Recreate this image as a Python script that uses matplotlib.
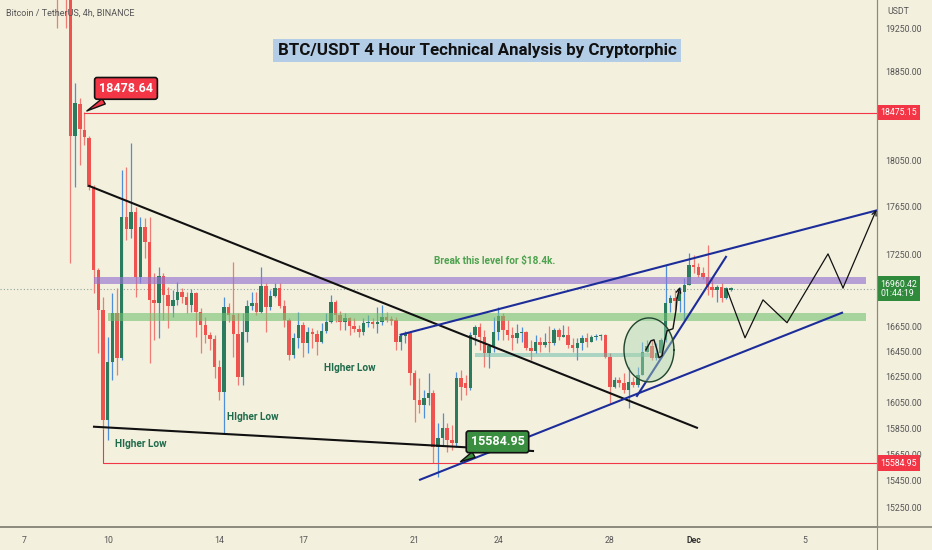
import numpy as np
import pandas as pd
import matplotlib
matplotlib.use('Agg')
import matplotlib.pyplot as plt
import matplotlib.transforms as mtransforms
from matplotlib.lines import Line2D
from matplotlib.ticker import NullLocator, NullFormatter

plt.rcParams['font.family'] = ['Roboto', 'DejaVu Sans']

# BTC/USDT 4h candles (Binance), first candle opens 2022-11-08 04:00
start = '2022-11-08 04:00'
opens = [19950, 19800, 19750, 19600, 18270, 18554, 18323, 18252, 17822, 17118, 16789, 15916,
         16370, 16765, 16402, 17564, 17462, 17607, 17060, 17479, 17352, 16870, 16846, 17069,
         16911, 16821, 16870, 16936, 16895, 16830, 16928, 16773, 16668, 16587, 16554, 16331,
         16133, 16813, 16749, 16595, 16252, 16611, 16821, 16846, 16773, 16986, 16813, 16903,
         16969, 16821, 16708, 16426, 16562, 16668, 16522, 16611, 16595, 16530, 16619, 16692,
         16854, 16749, 16692, 16724, 16659, 16635, 16611, 16684, 16692, 16676, 16692, 16732,
         16716, 16708, 16530, 16578, 16603, 16283, 16070, 16031, 16086, 16125, 15707, 15777,
         15854, 15762, 15738, 16244, 16200, 16160, 16587, 16651, 16570, 16441, 16498, 16610,
         16740, 16627, 16587, 16562, 16603, 16610, 16481, 16457, 16530, 16506, 16530, 16522,
         16627, 16570, 16587, 16506, 16481, 16522, 16562, 16530, 16570, 16578, 16585, 16410,
         16173, 16228, 16204, 16149, 16212, 16188, 16268, 16449, 16498, 16402, 16441, 16546,
         16846, 16886, 16862, 16936, 16994, 17160, 17143, 17090, 17055, 16977, 16952, 16977,
         16886, 16955]
highs = [20050, 19900, 19780, 19650, 18744, 18608, 18479, 18270, 17840, 17130, 16895, 16570,
         16928, 16969, 17971, 17997, 18207, 17650, 17564, 17556, 17564, 17094, 17143, 17094,
         16977, 16952, 17019, 16969, 16936, 16960, 16936, 16805, 16732, 16611, 16587, 16386,
         16895, 16846, 17185, 16765, 16765, 16870, 16936, 16936, 17143, 17011, 16952, 17011,
         17011, 16870, 16724, 16603, 16773, 16692, 16651, 16643, 16627, 16684, 16765, 16911,
         16870, 16781, 16765, 16732, 16724, 16668, 16724, 16749, 16724, 16813, 16830, 16773,
         16740, 16732, 16603, 16619, 16610, 16307, 16244, 16149, 16283, 16149, 15892, 15970,
         15892, 15877, 16291, 16307, 16268, 16611, 16668, 16684, 16627, 16514, 16732, 16813,
         16760, 16708, 16651, 16676, 16651, 16620, 16546, 16587, 16570, 16603, 16659, 16643,
         16643, 16668, 16659, 16562, 16562, 16587, 16603, 16587, 16590, 16595, 16595, 16441,
         16252, 16252, 16283, 16331, 16252, 16331, 16530, 16546, 16546, 16522, 16562, 17160,
         16911, 16952, 16977, 17052, 17259, 17243, 17176, 17143, 17326, 17060, 16994, 17011,
         16977, 16975]
lows = [19255, 19560, 19250, 17176, 17822, 18014, 18190, 17796, 16928, 16441, 15839, 15762,
        16228, 16268, 16386, 17369, 17386, 16895, 17011, 17218, 16362, 16546, 16562, 16708,
        16643, 16732, 16830, 16846, 16765, 16773, 16570, 16441, 16522, 16465, 16244, 16070,
        15815, 16692, 16410, 16188, 16188, 16530, 16789, 16749, 16765, 16611, 16789, 16895,
        16805, 16651, 16386, 16402, 16481, 16410, 16441, 16481, 16426, 16522, 16603, 16684,
        16692, 16627, 16627, 16587, 16611, 16570, 16587, 16651, 16643, 16603, 16668, 16692,
        16668, 16465, 16465, 16522, 16188, 15900, 15970, 15931, 16031, 15586, 15476, 15723,
        15669, 15684, 15707, 16070, 16110, 16149, 16506, 16465, 16331, 16323, 16449, 16546,
        16546, 16546, 16465, 16522, 16530, 16465, 16386, 16441, 16449, 16490, 16449, 16506,
        16546, 16565, 16481, 16449, 16386, 16465, 16490, 16530, 16546, 16546, 16402, 16047,
        16165, 16173, 16125, 16008, 16173, 16173, 16268, 16449, 16386, 16386, 16410, 16530,
        16773, 16789, 16773, 16708, 16994, 17094, 17060, 17045, 16911, 16895, 16854, 16854,
        16880, 16940]
closes = [19800, 19750, 19600, 18270, 18563, 18332, 18260, 17822, 17118, 16789, 15916, 16370,
          16765, 16402, 17564, 17462, 17607, 17060, 17479, 17352, 16870, 16846, 17069, 16911,
          16821, 16870, 16936, 16895, 16830, 16928, 16773, 16668, 16587, 16554, 16331, 16133,
          16813, 16749, 16595, 16252, 16611, 16821, 16846, 16773, 16986, 16813, 16903, 16969,
          16821, 16708, 16426, 16562, 16668, 16522, 16611, 16595, 16530, 16619, 16692, 16854,
          16749, 16692, 16724, 16659, 16635, 16611, 16684, 16692, 16676, 16692, 16732, 16708,
          16700, 16530, 16578, 16603, 16283, 16070, 16031, 16086, 16125, 15707, 15777, 15854,
          15762, 15738, 16244, 16173, 16160, 16587, 16651, 16570, 16441, 16498, 16610, 16740,
          16627, 16587, 16562, 16603, 16610, 16481, 16457, 16530, 16506, 16530, 16522, 16627,
          16570, 16587, 16506, 16481, 16522, 16562, 16530, 16570, 16578, 16585, 16410, 16173,
          16228, 16204, 16149, 16212, 16188, 16268, 16449, 16498, 16402, 16441, 16546, 16846,
          16886, 16862, 16936, 16994, 17160, 17143, 17077, 17055, 16977, 16952, 16977, 16886,
          16969, 16960.42]

# drawings (x = day counted from Oct 31, so 31 = Dec 1)
high_mark = (9.167, 18478.64)
low_mark = (22.556, 15584.95)
res_line = 18475.15
sup_line = 15584.95
last_price = 16960.42
purple_zone = (17002, 17060)
green_zone = (16699, 16765)
teal_zone = (16410, 16442)
black_lines = [((9.333, 17830), (31.12, 15854)),
               ((9.509, 15862), (25.244, 15676))]
blue_lines = [((20.5, 16587), (37.573, 17620)),
              ((21.194, 15459), (36.32, 16765)),
              ((28.97, 16101), (32.16, 17226))]
proj_days = [32.197, 32.842, 33.487, 34.348, 35.817, 36.355, 37.55]
proj_prices = [16952, 16562, 16870, 16684, 17251, 16969, 17624]
hook_days = [29.29, 29.47, 29.58, 29.69, 29.76, 29.87, 29.97, 30.05, 30.26, 30.37, 30.41, 30.51]
hook_prices = [16465, 16538, 16546, 16465, 16402, 16418, 16546, 16619, 16635, 16789, 16886, 16977]
higher_lows = [(11.19, 15730), (15.21, 15939), (18.68, 16323)]

price_ticks = [19250, 18850, 18050, 17650, 17250, 16650, 16450, 16250, 16050, 15850, 15650, 15450, 15250]
day_ticks = [7, 10, 14, 17, 21, 24, 28, 31, 35]
day_labels = ['7', '10', '14', '17', '21', '24', '28', 'Dec', '5']

BG = '#f4f0de'
UP, DOWN = '#2b7c5f', '#ef5350'
UP_WICK, DOWN_WICK = '#4f8fd8', '#f07a74'

times = pd.date_range(start, periods=len(opens), freq='4h')
days = ((times - pd.Timestamp('2022-10-31')) / pd.Timedelta('1D')).to_numpy()
o, h, l, c = map(np.array, (opens, highs, lows, closes))
up = c >= o

fig = plt.figure(figsize=(9.32, 5.5), dpi=100, facecolor=BG)
ax = fig.add_axes([0, 23 / 550, 877 / 932, 527 / 550], facecolor=BG)
ax.set_yscale('log')
ax.set_ylim(15108, 19515)
ax.set_xlim(6.14, 37.573)

# candles
ax.vlines(days, l, h, colors=np.where(up, UP_WICK, DOWN_WICK), lw=0.9, zorder=2)
body = np.maximum(np.abs(c - o), c * 0.0005)
ax.bar(days, body, bottom=np.minimum(o, c), width=0.125,
       color=np.where(up, UP, DOWN), zorder=3)

# zones
xe = 37.18
ax.fill_between([9.509, xe], *purple_zone, color='#9474d0', alpha=0.65, lw=0, zorder=4)
ax.fill_between([10.01, xe], *green_zone, color='#74c072', alpha=0.6, lw=0, zorder=4)
ax.fill_between([23.165, 29.44], *teal_zone, color='#63b9a8', alpha=0.5, lw=0, zorder=4)

# horizontal levels
ax.plot([high_mark[0], 40], [res_line, res_line], color='#f23645', lw=0.8, zorder=5)
ax.plot([9.833, 9.833, 40], [15839, sup_line, sup_line], color='#f23645', lw=0.8, zorder=5)
ax.axhline(last_price, color='#8fa39a', lw=0.8, ls=(0, (1, 2)), zorder=1)

for (x0, y0), (x1, y1) in black_lines:
    ax.plot([x0, x1], [y0, y1], color='#111111', lw=1.5, zorder=6)
for (x0, y0), (x1, y1) in blue_lines:
    ax.plot([x0, x1], [y0, y1], color='#1c2d9a', lw=1.5, zorder=6)

# circle around the breakout
t = np.linspace(0, 2 * np.pi, 200)
ex = 29.40 + 0.896 * np.cos(t)
ey = 16465 * np.exp(0.01553 * np.sin(t))
ax.fill(ex, ey, color='#a9d6b0', alpha=0.45, zorder=6)
ax.plot(ex, ey, color='#23452f', lw=1, zorder=7)

ax.plot(hook_days[:-1], hook_prices[:-1], color='#111111', lw=1, zorder=7)
ax.annotate('', xy=(hook_days[-1], hook_prices[-1]), xytext=(hook_days[-2], hook_prices[-2]),
            arrowprops=dict(arrowstyle='->', color='#111111', lw=1, shrinkA=0, shrinkB=0,
                            mutation_scale=8), zorder=7)

ax.plot(proj_days[:-1], proj_prices[:-1], color='#111111', lw=0.9, zorder=7)
ax.annotate('', xy=(proj_days[-1], proj_prices[-1]), xytext=(proj_days[-2], proj_prices[-2]),
            arrowprops=dict(arrowstyle='->', color='#111111', lw=0.9, shrinkA=0, shrinkB=0,
                            mutation_scale=8), zorder=7)

# callouts
ax.annotate(f'{high_mark[1]:.2f}', xy=high_mark, xytext=(10.656, 18695),
            ha='center', va='center', color='white', fontsize=9, fontweight='bold',
            bbox=dict(boxstyle='round,pad=0.35,rounding_size=0.2', fc='#f23645', ec='#111111', lw=1.2),
            arrowprops=dict(arrowstyle='wedge,tail_width=0.5', fc='#f23645', ec='#111111', lw=1),
            zorder=9)
ax.annotate(f'{low_mark[1]:.2f}', xy=low_mark, xytext=(23.97, 15746),
            ha='center', va='center', color='white', fontsize=9, fontweight='bold',
            bbox=dict(boxstyle='round,pad=0.35,rounding_size=0.2', fc='#3a8e3f', ec='#111111', lw=1.2),
            arrowprops=dict(arrowstyle='wedge,tail_width=0.5', fc='#3a8e3f', ec='#111111', lw=1),
            zorder=9)

for x, y in higher_lows:
    ax.text(x, y, 'HIgher Low', ha='center', va='center', fontsize=7.3,
            fontweight='bold', color='#1f6b4c', zorder=8)
ax.text(23.88, 17193, 'Break this level for $18.4k.', ha='center', va='center',
        fontsize=7.2, fontweight='bold', color='#4ca24e', zorder=8)

# axes styling
for s in ['top', 'left']:
    ax.spines[s].set_visible(False)
ax.spines['right'].set_color('#8c8a7c')
ax.spines['bottom'].set_color('#8c8a7c')
ax.spines['bottom'].set_linewidth(1.2)
ax.yaxis.tick_right()
ax.yaxis.set_minor_locator(NullLocator())
ax.yaxis.set_minor_formatter(NullFormatter())
ax.set_yticks(price_ticks)
ax.set_yticklabels([f'{p:.2f}' for p in price_ticks])
ax.tick_params(axis='y', length=0, pad=6, labelsize=6.3, labelcolor='#555555')
ax.set_xticks(day_ticks)
ax.set_xticklabels(day_labels)
ax.tick_params(axis='x', length=0, pad=6.5, labelsize=6.3, labelcolor='#555555')
ax.get_xticklabels()[7].set_fontweight('bold')
ax.get_xticklabels()[7].set_color('#333333')

# price tags on the scale
tr = mtransforms.blended_transform_factory(ax.transAxes, ax.transData)
for p, txt, col in [(res_line, f'{res_line:.2f}', '#f23645'),
                    (sup_line, f'{sup_line:.2f}', '#f23645'),
                    (last_price, f'{last_price:.2f}\n01:44:19', '#2f8a3b')]:
    ax.text(1.004, p, txt, transform=tr, ha='left', va='center', fontsize=6.3,
            color='white', linespacing=1.1, clip_on=False, zorder=10,
            bbox=dict(boxstyle='square,pad=0.35', fc=col, ec='none'))

fig.add_artist(Line2D([877 / 932, 877 / 932], [0, 1], color='#8c8a7c', lw=0.8))
fig.add_artist(Line2D([0, 1], [23 / 550, 23 / 550], color='#8c8a7c', lw=1.2))

fig.text(887 / 932, 1 - 11 / 550, 'USDT', fontsize=6.3, color='#555555', va='center')
fig.text(6 / 932, 1 - 13 / 550, 'Bitcoin / TetherUS, 4h, BINANCE', fontsize=6.5,
         color='#555555', va='center')
fig.text(477 / 932, 1 - 50.5 / 550, 'BTC/USDT 4 Hour Technical Analysis by Cryptorphic',
         ha='center', va='center', fontsize=12.2, fontweight='bold', color='#111111',
         bbox=dict(boxstyle='square,pad=0.25', fc='#b4cde6', ec='none'))

fig.savefig('out.png', dpi=100, facecolor=BG)
